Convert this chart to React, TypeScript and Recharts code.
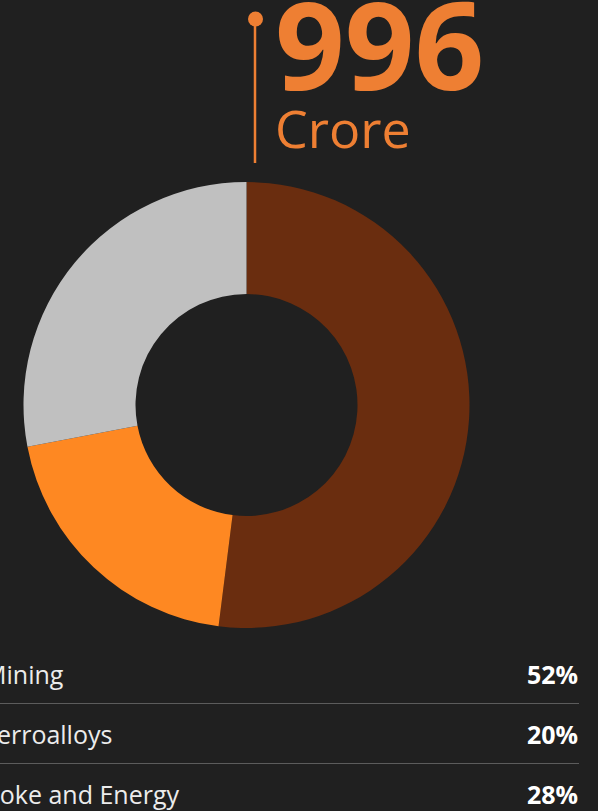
import React from 'react';
import { PieChart, Pie, Cell } from 'recharts';

const categories = ['Mining', 'Ferroalloys', 'Coke and Energy'];
const shares = [52, 20, 28];
const COLORS = ['#6a2d0f', '#fe8822', '#c0c0c0'];
const total = '996';
const unit = 'Crore';

const data = categories.map((name, i) => ({ name, value: shares[i] }));

const ORANGE = '#ee7f33';

export default function App() {
  return (
    <div style={{ position: 'relative', width: 598, height: 811, background: '#202020', overflow: 'hidden' }}>
      <style>{`body { margin: 0; background: #202020; }`}</style>
      <PieChart width={598} height={811} margin={{ top: 0, right: 0, bottom: 0, left: 0 }}>
        <Pie
          data={data}
          dataKey="value"
          nameKey="name"
          cx={246.5}
          cy={405}
          innerRadius={111}
          outerRadius={223}
          startAngle={90}
          endAngle={-270}
          stroke="none"
          isAnimationActive={false}
        >
          {data.map((entry, i) => (
            <Cell key={`cell-${i}`} fill={COLORS[i % COLORS.length]} />
          ))}
        </Pie>
      </PieChart>
      <svg
        width={598}
        height={811}
        style={{ position: 'absolute', left: 0, top: 0, pointerEvents: 'none', fontFamily: '"Open Sans", sans-serif' }}
      >
        {/* headline marker */}
        <line x1={255} y1={19} x2={255} y2={163} stroke={ORANGE} strokeWidth={2.5} />
        <circle cx={255.5} cy={19} r={7.5} fill={ORANGE} />
        <text x={275} y={90} fill={ORANGE} fontSize={122} fontWeight={700}>{total}</text>
        <text x={275} y={148} fill={ORANGE} fontSize={52}>{unit}</text>

        {/* legend table */}
        {data.map((d, i) => (
          <g key={d.name}>
            <text x={-16} y={684 + i * 60} fill="#ececec" fontSize={25}>{d.name}</text>
            <text x={578} y={684 + i * 60} fill="#ffffff" fontSize={25} fontWeight={700} textAnchor="end">
              {`${d.value}%`}
            </text>
            {i < data.length - 1 && (
              <line x1={0} x2={579} y1={703.5 + i * 60} y2={703.5 + i * 60} stroke="#5c5c5c" strokeWidth={1} />
            )}
          </g>
        ))}
      </svg>
    </div>
  );
}
